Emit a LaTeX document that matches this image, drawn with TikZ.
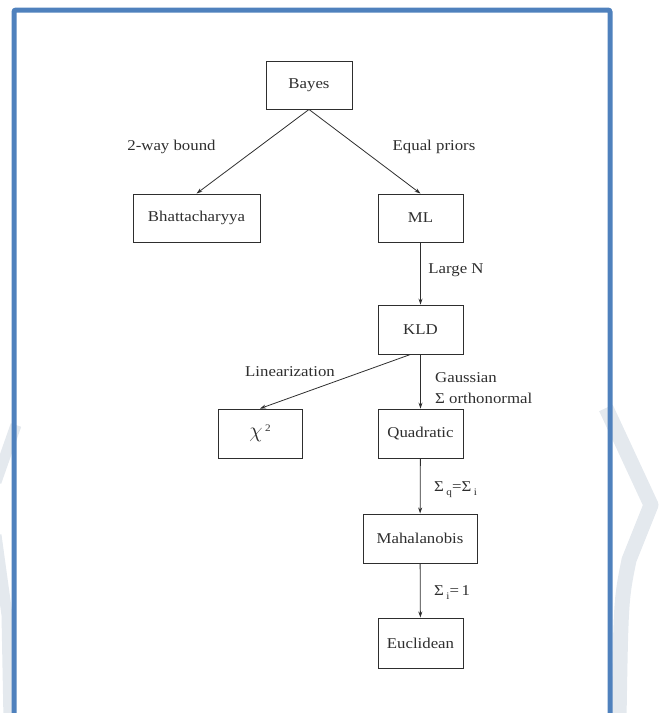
\documentclass[tikz,border=0pt]{standalone}
\usepackage{fontspec}
\setmainfont{Liberation Serif}[FakeStretch=1.12]
\usetikzlibrary{arrows.meta}
\definecolor{frameblue}{HTML}{4F81BD}
\definecolor{wmark}{HTML}{E4E9EE}
\definecolor{ink}{HTML}{2E2E2E}
\newcommand{\lowsub}[1]{\raisebox{-4pt}{\fontsize{10}{10}\selectfont #1}}
\tikzset{
  box/.style={draw=ink, line width=0.9pt, minimum height=48pt, text=ink, inner sep=0pt},
  lbl/.style={text=ink, inner sep=0pt},
  conn/.style={draw=ink, line width=0.8pt, -{Stealth[length=6pt,width=4pt]}},
}
\begin{document}
\begin{tikzpicture}[x=1pt,y=-1pt, font=\fontsize{15}{18}\selectfont]
\useasboundingbox (0,0) rectangle (661,713);
\begin{scope}
\clip (0,0) rectangle (661,713);
% watermark bands
\draw[wmark, line width=15pt, line join=round] (606,408) -- (651,505) -- (629,560) .. controls (621,600) .. (619,720);
\draw[wmark, line width=11pt, line join=round] (16,425) -- (-4,482);
\draw[wmark, line width=11pt, line join=round] (-4,535) -- (7,615) -- (9,720);
% frame
\draw[frameblue, line width=5pt, rounded corners=2pt] (14,740) -- (14,10) -- (610,10) -- (610,740);
\end{scope}

\node[box, minimum width=86pt] (bayes) at (309,85) {Bayes};
\node[box, minimum width=127pt] (bhat) at (196.5,218) {Bhattacharyya};
\node[box, minimum width=85pt] (ml) at (420.5,218) {ML};
\node[box, minimum width=85pt, minimum height=49pt] (kld) at (420.5,329.5) {KLD};
\node[box, minimum width=84pt, minimum height=49pt] (chi) at (260,433.5) {\scalebox{1.5}{$\chi$}\,\raisebox{6pt}{\fontsize{10}{10}\selectfont 2}};
\node[box, minimum width=85pt, minimum height=49pt] (quad) at (420.5,433.5) {Quadratic};
\node[box, minimum width=114pt, minimum height=49pt] (maha) at (420,538.5) {Mahalanobis};
\node[box, minimum width=85pt, minimum height=50pt] (eucl) at (420.5,643) {Euclidean};

\draw[conn] (bayes.south) -- (bhat.north);
\draw[conn] (bayes.south) -- (ml.north);
\draw[conn] (ml) -- (kld);
\draw[conn] ([xshift=-10pt]kld.south) -- (chi.north);
\draw[conn] (kld) -- (quad);
\draw[conn] (quad) -- (maha);
\draw[conn] (maha) -- (eucl);

\node[lbl] (l1) at (171.5,147) {2-way bound};
\node[lbl] (l2) at (434,147) {Equal priors};
\node[lbl] (l3) at (456,270) {Large N};
\node[lbl] (l4) at (290,372) {Linearization};
\node[lbl, anchor=west] (l5) at (435,378) {Gaussian};
\node[lbl, anchor=west] (l6) at (435,398) {Σ orthonormal};
\node[lbl, anchor=west] (l7) at (434,490) {Σ\,\lowsub{q}=Σ\,\lowsub{i}};
\node[lbl, anchor=west] (l8) at (434,593) {Σ\,\lowsub{i}=\,1};
\end{tikzpicture}
\end{document}
